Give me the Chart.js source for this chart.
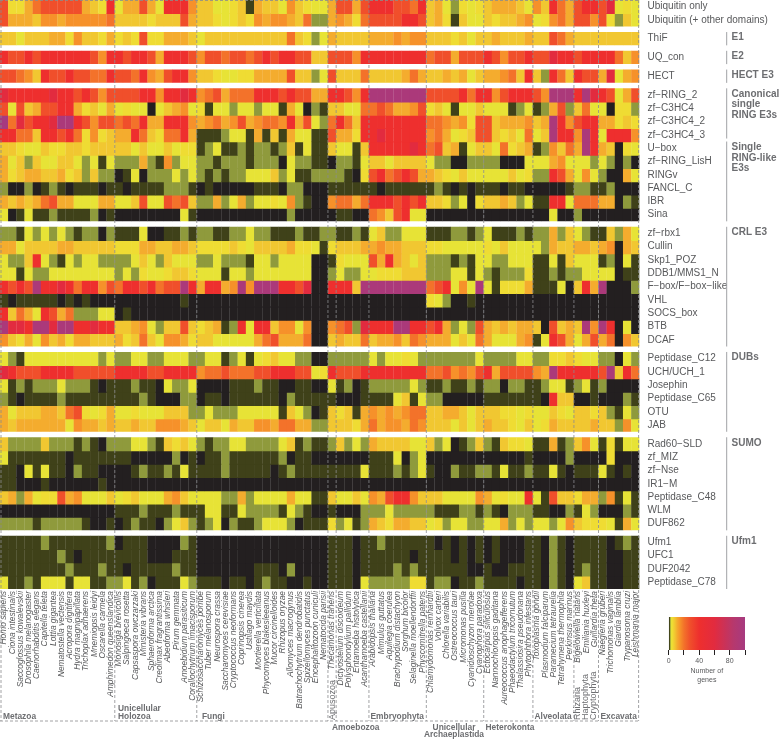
<!DOCTYPE html>
<html><head><meta charset="utf-8">
<script src="https://cdn.jsdelivr.net/npm/chart.js@4"></script>
<style>html,body{margin:0;padding:0;background:#fff}#wrap{position:relative;width:779px;height:740px}canvas{position:absolute;display:block}</style>
</head><body><div id="wrap"><canvas id="c" width="779" height="740" style="left:0;top:0"></canvas><canvas id="leg" width="100" height="72" style="left:660px;top:612px"></canvas></div>
<script>
const species=["Homo sapiens","Ciona intestinalis","Saccoglossus kowalevskii","Drosophila melanogaster","Caenorhabditis elegans","Capitella teleta","Lottia gigantea","Nematostella vectensis","Acropora digitifera","Hydra magnipapillata","Trichoplax adhaerens","Mnemiopsis leidyi","Oscarella carmela","Amphimedon queenslandica","Monosiga brevicollis","Salpingoeca rosetta","Capsaspora owczarzaki","Ministeria vibrans","Sphaeroforma arctica","Creolimax fragrantissima","Abeoforma whisleri","Pirum gemmata","Amoebidium parasiticum","Corallochytrium limacisporum","Schizosaccharomyces pombe","Tuber melanosporum","Neurospora crassa","Saccharomyces cerevisiae","Cryptococcus neoformans","Coprinopsis cinerea","Ustilago maydis","Mortierella verticillata","Phycomyces blakesleeanus","Mucor circinelloides","Rhizopus oryzae","Allomyces macrogynus","Batrachochytrium dendrobatidis","Spizellomyces punctatus","Encephalitozoon cuniculi","Nematocida parisii","Thecamonas trahens","Dictyostelium discoideum","Polysphondylium pallidum","Entamoeba histolytica","Acanthamoeba castellanii","Arabidopsis thaliana","Mimulus guttatus","Aquilegia coerulea","Brachypodium distachyon","Sorghum bicolor","Selaginella moellendorffii","Physcomitrella patens","Chlamydomonas reinhardtii","Volvox carteri","Chlorella variabilis","Ostreococcus tauri","Micromonas pusilla","Cyanidioschyzon merolae","Cyanophora paradoxa","Ectocarpus siliculosus","Nannochloropsis gaditana","Aureococcus anophagefferens","Phaeodactylum tricornutum","Thalassiosira pseudonana","Phytophthora infestans","Toxoplasma gondii","Plasmodium falciparum","Paramecium tetraurelia","Tetrahymena thermophila","Perkinsus marinus","Bigelowiella natans","Emiliania huxleyi","Guillardia theta","Naegleria gruberi","Trichomonas vaginalis","Giardia lamblia","Trypanosoma cruzi","Leishmania major"];
const ubiquitinOnly=[28,5,5,11,20,28,28,28,28,28,11,8,5,40, 3,11,11,28,11,3,40,40,40,15, 8,8,3,3,5,8,1,11,8,8,3,15,8,5,3,3, 11, 28,28,11,28, 40,40,40,28,28,20,40, 8,11,3,2,5,3,5, 8,11,11,11,8,3, 15,8,40,20,11, 28,40,40, 28,60,3,5,3];
const ubiquitinPlus=[28,11,11,11,8,15,15,11,15,15,15,15,15,20, 8,8,8,8,5,8,8,8,28,11, 8,8,5,3,5,8,5,15,11,15,15,11,8,20,2,2, 11, 15,11,5,20, 28,28,28,28,40,40,28, 8,11,5,1,8,3,3, 8,5,8,8,11,15, 3,5,15,20,11, 28,28,15, 28,5,2,8,3];
const thiF=[8,8,3,8,8,8,11,11,5,15,8,8,5,11, 5,8,5,28,5,5,11,11,11,8, 3,8,8,8,8,8,8,8,8,8,8,20,8,5,2,3, 11, 8,8,8,8, 11,11,11,15,11,15,15, 8,8,8,5,8,3,8, 8,11,8,8,8,11, 8,8,28,20,11, 8,8,8, 8,8,8,8,8];
const uqCon=[40,28,28,40,28,40,40,40,40,40,40,28,15,40, 40,28,40,40,28,11,40,40,40,28, 15,28,28,20,28,28,20,28,40,28,40,40,28,28,8,8, 28, 28,28,15,40, 40,40,40,40,40,40,40, 20,28,28,11,28,28,28, 40,28,15,28,28,40, 28,28,60,40,40, 28,40,40, 40,40,20,8,15];
const hect=[28,28,20,15,8,40,28,28,40,28,28,20,20,40, 28,28,20,40,15,11,28,40,40,15, 8,8,5,3,3,5,5,11,11,11,11,28,8,8,2,3, 28, 8,8,8,20, 8,8,8,8,11,20,11, 8,8,11,8,11,3,8, 11,11,15,20,8,40, 8,2,40,20,8, 40,28,28, 11,60,3,11,15];
const zfRing2=[60,40,40,40,40,40,60,40,40,28,40,28,15,28, 28,28,28,40,40,15,40,40,60,40, 15,20,28,11,20,20,20,40,40,40,28,40,28,28,11,11, 40, 40,28,15,40, 95,95,95,95,95,95,95, 28,28,28,28,40,20,40, 40,15,28,40,40,40, 28,15,95,95,95, 40,95,60, 40,28,3,11,28];
const zfC3hc4=[28,3,28,8,11,28,28,40,40,11,5,8,3,11, 3,5,3,3,0,3,8,11,15,3, 5,1,3,3,2,3,3,2,3,3,1,11,3,0,2,1, 8, 8,3,3,20, 20,28,20,11,11,15,28, 5,8,3,1,3,3,8, 3,3,3,1,2,3, 1,2,11,28,2, 8,20,3, 3,0,5,5,2];
const zfC3hc42=[100,20,60,28,40,40,60,95,95,40,28,15,28,28, 20,28,20,40,11,11,40,40,40,15, 11,15,20,11,15,28,11,15,20,20,15,40,11,28,3,2, 20, 40,20,8,40, 40,40,40,40,40,40,40, 20,20,15,11,15,5,28, 28,8,11,11,11,15, 8,11,95,40,15, 28,40,40, 11,11,5,8,5];
const zfC3hc43=[40,40,20,20,8,40,40,28,40,20,5,15,5,8, 11,11,40,20,8,5,20,20,40,11, 1,1,1,2,3,3,1,11,1,8,1,11,3,3,1,1, 28, 11,11,5,40, 40,60,40,40,40,40,40, 15,20,11,3,5,8,28, 28,8,5,8,3,20, 3,8,95,40,40, 15,95,40, 3,40,40,40,15];
const uBox=[8,8,5,3,3,8,5,5,8,8,5,8,8,8, 8,8,3,8,3,3,8,3,5,5, 1,2,3,1,1,2,1,2,2,1,2,8,1,3,1,1, 8, 3,3,1,8, 40,40,40,40,40,60,40, 20,28,8,11,1,3,8, 8,3,20,5,8,11, 1,2,15,8,20, 11,95,40, 11,8,0,5,3];
const zfRingLisH=[11,3,8,2,8,3,3,8,8,3,2,3,1,3, 2,2,2,11,2,1,15,2,3,3, 2,2,1,2,2,2,1,2,2,2,0,3,2,2,1,1, 0, 2,2,1,3, 8,8,3,8,8,8,8, 3,2,2,0,0,2,2, 2,2,0,0,0,3, 3,3,11,15,3, 3,3,2, 3,2,0,2,0];
const ringV=[11,5,8,11,11,8,8,11,5,8,2,8,2,2, 0,1,3,0,2,2,2,3,2,3, 2,1,2,1,2,2,3,3,3,8,2,3,1,1,2,2, 2, 2,1,0,5, 28,40,20,28,40,28,11, 11,8,5,3,8,3,3, 3,3,3,8,3,5, 2,2,40,28,11, 3,15,3, 2,0,0,11,3];
const fanclC=[2,0,0,2,0,1,2,1,0,1,1,1,0,1, 1,0,1,1,1,1,2,2,2,1, 0,1,0,0,0,0,0,1,1,1,0,2,2,0,0,0, 1, 1,1,1,1, 1,0,1,1,1,1,1, 1,2,1,0,1,0,1, 1,1,0,1,1,0, 0,0,0,0,1, 2,2,1, 1,2,0,0,0];
const ibr=[11,8,11,8,11,20,28,11,11,3,3,3,11,11, 3,3,8,28,3,3,28,20,28,8, 2,2,11,2,3,11,2,3,3,5,3,15,2,1,0,0, 15, 20,20,11,20, 40,40,40,28,40,28,40, 8,8,5,2,3,0,5, 8,8,11,8,2,3, 1,1,40,40,3, 20,20,20, 11,11,0,2,1];
const sina=[3,0,1,3,1,1,2,1,1,1,1,2,0,1, 0,0,0,0,0,0,0,0,3,1, 0,0,0,0,0,0,0,0,0,0,0,2,0,0,0,0, 0, 1,1,0,0, 20,15,8,28,40,3,3, 0,0,0,0,0,0,0, 0,0,0,0,0,0, 0,0,3,0,0, 2,0,0, 0,0,0,0,0];
const zfRbx1=[2,2,1,3,2,3,2,3,2,1,2,2,0,2, 1,1,1,3,0,0,1,1,2,1, 2,2,1,1,2,2,3,2,2,1,1,1,2,1,1,2, 2, 1,1,2,1, 3,8,2,2,3,3,3, 1,1,1,2,2,1,2, 3,1,1,1,2,1, 2,2,11,2,8, 3,2,1, 1,8,2,11,3];
const cullin=[11,11,3,8,8,8,8,11,11,8,8,8,8,8, 5,5,5,11,11,8,8,11,11,8, 5,5,5,5,8,5,3,8,8,8,8,11,5,5,3,1, 5, 8,8,8,11, 11,15,11,11,8,8,8, 5,5,3,3,3,3,3, 5,3,8,3,3,3, 3,2,11,8,8, 11,11,8, 11,15,0,11,8];
const skp1Poz=[3,2,2,8,40,3,2,1,3,2,3,3,2,2, 2,2,3,8,3,2,8,3,3,3, 2,2,3,2,2,2,1,3,3,2,3,3,3,3,0,0, 1, 5,3,3,3, 28,11,40,11,8,3,8, 2,2,2,1,2,1,3, 3,2,2,3,3,3, 1,1,3,1,8, 3,3,3, 1,2,0,3,1];
const ddb1=[3,3,1,3,2,2,3,3,3,3,3,3,3,3, 2,3,2,5,3,3,5,8,8,5, 3,3,3,1,3,3,2,3,3,3,3,3,3,3,0,0, 2, 3,2,2,3, 3,5,5,5,8,8,8, 2,2,2,3,3,1,3, 2,1,2,2,2,5, 1,1,2,1,2, 2,3,3, 3,3,0,1,1];
const fBox=[40,28,40,28,95,40,40,60,40,20,40,40,15,28, 20,40,40,28,40,20,28,28,95,40, 11,40,40,11,15,95,15,95,95,95,40,40,28,60,0,0, 40, 40,40,8,95, 95,95,95,95,95,95,95, 20,28,40,3,15,3,95, 3,1,5,5,5,11, 1,1,1,3,0, 8,40,11, 95,0,0,0,2];
const vhl=[1,0,1,1,1,1,1,0,1,0,1,0,0,0, 0,0,0,0,0,0,0,0,1,0, 0,0,0,0,0,0,0,0,0,0,0,0,0,0,0,0, 0, 0,0,0,0, 0,0,0,0,0,0,0, 5,3,2,0,0,1,0, 0,0,0,0,0,0, 0,0,0,0,0, 0,0,0, 0,0,0,0,0];
const socsBox=[40,8,20,11,3,40,28,11,20,2,2,2,3,3, 0,1,0,0,0,0,0,0,0,0, 0,0,0,0,0,0,0,0,0,0,0,0,0,0,0,0, 0, 0,0,0,0, 0,0,0,0,0,0,0, 0,0,0,0,0,0,0, 0,0,0,0,0,0, 0,0,0,0,0, 0,0,0, 0,0,0,0,0];
const btb=[95,60,60,40,95,95,60,95,95,40,40,60,40,40, 8,8,11,15,3,2,8,8,28,8, 5,8,11,1,2,40,3,40,40,8,15,15,3,15,0,0, 15, 20,28,2,60, 40,40,40,95,95,40,40, 28,40,11,2,3,2,28, 11,8,11,8,11,11, 8,0,28,8,11, 8,95,15, 95,40,0,3,0];
const dcaf=[15,8,5,11,3,15,8,11,5,11,11,8,8,8, 11,5,8,20,8,3,15,15,11,5, 8,8,3,3,3,3,3,11,20,28,11,11,11,20,0,0, 8, 11,8,8,20, 8,11,11,15,8,20,15, 11,11,11,3,8,3,20, 11,3,3,3,11,15, 1,3,40,28,11, 3,11,28, 11,20,0,15,8];
const pepC12=[3,2,1,3,3,3,3,3,3,3,3,3,2,3, 2,2,3,3,2,2,3,3,3,2, 2,3,3,1,2,3,1,3,5,8,3,3,2,2,0,0, 2, 2,2,2,2, 3,2,3,3,5,3,2, 2,2,2,2,2,2,3, 2,2,2,2,3,3, 2,2,5,5,8, 5,3,3, 2,2,0,3,2];
const uch=[60,40,28,28,28,40,40,40,40,28,28,28,28,28, 40,40,40,40,28,28,40,40,40,40, 15,20,20,28,20,20,20,28,28,40,40,40,28,28,3,5, 40, 28,28,28,40, 40,40,40,40,40,40,40, 20,20,28,15,20,15,28, 40,11,28,28,28,28, 15,11,95,40,40, 40,40,40, 28,95,8,40,20];
const josephin=[3,1,2,1,2,2,2,3,2,2,2,1,0,1, 1,1,2,1,1,0,3,2,2,3, 0,0,0,0,1,1,1,2,1,1,0,0,1,1,0,0, 3, 1,2,0,1, 2,2,2,2,2,3,2, 1,1,2,1,1,2,1, 2,2,0,2,2,1, 1,2,3,3,1, 2,3,1, 2,0,0,0,0];
const pepC65=[2,1,0,1,1,1,1,2,1,1,1,1,1,1, 1,1,1,2,1,0,0,0,2,2, 0,1,1,0,1,1,1,1,1,1,0,2,1,1,1,1, 1, 0,0,0,1, 1,1,1,3,8,1,3, 2,2,0,0,0,0,0, 1,1,1,1,1,1, 1,0,40,8,8, 0,0,1, 0,0,0,2,1];
const otu=[11,3,8,8,8,11,11,8,20,28,5,3,5,11, 3,3,5,3,3,3,8,8,8,2, 2,3,2,2,2,3,3,3,3,3,1,8,3,2,0,1, 8, 5,8,1,11, 15,11,15,11,15,20,20, 8,8,11,11,8,3,8, 8,8,5,5,3,5, 3,3,8,5,3, 8,8,5, 8,2,1,3,2];
const jab=[11,8,11,11,11,11,11,11,3,15,11,11,8,11, 8,8,11,8,8,15,15,15,11,8, 3,8,8,3,11,8,8,15,15,11,20,20,11,11,2,2, 8, 8,8,5,11, 20,11,15,15,11,20,15, 8,8,8,3,8,3,8, 11,8,8,5,3,8, 3,5,11,8,8, 8,8,11, 8,8,2,15,3];
const rad60=[8,2,2,2,2,8,2,2,2,1,2,1,0,2, 2,2,3,3,2,1,8,5,8,3, 2,1,2,2,3,3,2,2,2,2,3,8,1,2,1,1, 2, 8,2,3,2, 11,8,8,8,8,3,3, 8,2,3,0,1,2,8, 2,1,8,5,5,3, 1,1,11,1,2, 8,15,3, 1,5,1,3,3];
const zfMiz=[3,1,1,1,1,1,1,1,0,1,1,1,1,1, 1,1,0,0,0,0,0,2,0,1, 0,1,1,2,1,1,1,1,1,1,2,0,1,1,0,0, 0, 0,0,0,0, 1,1,1,3,0,2,3, 0,0,0,0,0,0,0, 0,0,0,0,0,1, 0,0,0,0,2, 0,0,0, 0,5,0,0,0];
const zfNse=[1,1,0,3,1,3,1,1,0,2,1,1,0,0, 0,0,1,2,1,1,2,1,3,1, 1,1,1,2,1,1,1,1,1,0,1,2,1,1,1,1, 1, 1,1,1,3, 1,1,1,2,1,2,3, 1,0,0,2,1,1,2, 2,1,3,1,1,2, 1,1,3,1,0, 1,1,1, 3,1,0,1,0];
const ir1M=[1,1,0,0,0,1,0,0,0,0,0,0,1,0, 0,0,0,0,0,0,0,0,0,0, 0,0,0,0,0,0,0,0,0,0,0,0,0,0,0,0, 0, 0,0,0,0, 0,0,0,0,0,0,0, 0,0,0,0,0,0,0, 0,0,0,0,0,0, 0,0,0,0,0, 0,0,0, 0,0,0,0,0];
const pepC48=[8,11,2,11,3,5,5,28,11,15,3,3,3,8, 3,5,8,3,3,3,11,15,8,3, 3,3,3,2,2,11,2,3,3,3,3,11,3,3,1,1, 8, 3,3,8,3, 15,11,28,40,40,15,8, 8,8,3,3,3,3,15, 11,3,5,3,3,40, 3,1,28,8,8, 5,11,11, 2,15,1,3,1];
const wlm=[0,0,0,0,0,0,0,0,0,0,0,0,0,0, 1,1,1,2,1,1,1,2,1,1, 1,3,3,1,1,3,2,2,2,2,1,3,2,1,0,0, 1, 0,0,0,2, 2,2,3,2,2,2,2, 2,1,1,1,2,2,1, 2,1,0,2,2,2, 1,1,0,0,2, 1,3,2, 0,0,0,2,1];
const duf862=[2,2,2,2,1,2,2,2,2,2,1,0,0,1, 0,1,2,1,1,0,2,3,8,2, 1,2,3,0,2,1,1,2,3,3,3,2,0,1,1,1, 5, 2,3,1,2, 11,8,5,11,11,8,8, 3,5,2,3,3,2,2, 3,3,11,2,3,2, 3,3,2,3,15, 8,5,5, 5,3,1,11,3];
const ufm1=[1,1,1,1,1,2,1,1,1,1,1,1,1,2, 0,1,1,1,0,0,0,0,2,1, 0,0,0,0,0,0,0,0,0,0,0,0,0,0,0,0, 1, 1,1,0,1, 1,2,1,1,1,1,1, 1,0,1,0,1,0,1, 0,1,0,0,0,1, 1,0,2,1,0, 1,1,1, 1,0,1,2,1];
const ufc1=[1,1,1,1,1,1,1,2,1,0,1,1,1,1, 1,1,1,1,0,0,0,1,1,1, 0,0,0,0,0,0,0,0,0,0,0,0,0,0,0,0, 1, 1,1,0,1, 1,1,1,1,1,0,1, 1,1,1,0,1,0,1, 0,1,0,0,0,1, 1,0,2,1,0, 1,1,1, 1,0,0,1,1];
const duf2042=[1,1,1,1,1,1,1,1,2,1,1,1,2,1, 1,0,1,1,1,1,1,2,1,1, 0,0,0,0,0,0,0,1,1,1,0,2,0,0,0,0, 1, 1,1,0,1, 1,1,1,2,1,2,1, 1,1,1,1,1,0,0, 1,0,0,1,1,1, 1,0,2,1,0, 1,2,1, 1,0,0,1,1];
const pepC78=[3,1,1,2,1,3,3,3,1,3,3,1,1,2, 2,3,1,2,0,1,1,1,3,2, 1,1,1,0,1,1,0,1,2,1,1,0,0,1,0,0, 1, 1,1,0,3, 2,2,2,2,2,5,5, 1,2,2,0,1,1,2, 1,1,1,1,0,1, 1,0,2,1,0, 3,8,1, 1,0,0,1,1];

const rowNames=["Ubiquitin only","Ubiquitin (+ other domains)","ThiF","UQ_con","HECT","zf\u2212RING_2","zf\u2212C3HC4","zf\u2212C3HC4_2","zf\u2212C3HC4_3","U\u2212box","zf\u2212RING_LisH","RINGv","FANCL_C","IBR","Sina","zf\u2212rbx1","Cullin","Skp1_POZ","DDB1/MMS1_N","F\u2212box/F\u2212box\u2212like","VHL","SOCS_box","BTB","DCAF","Peptidase_C12","UCH/UCH_1","Josephin","Peptidase_C65","OTU","JAB","Rad60\u2212SLD","zf_MIZ","zf\u2212Nse","IR1\u2212M","Peptidase_C48","WLM","DUF862","Ufm1","UFC1","DUF2042","Peptidase_C78"];
const rowValues=[ubiquitinOnly,ubiquitinPlus,thiF,uqCon,hect,zfRing2,zfC3hc4,zfC3hc42,zfC3hc43,uBox,zfRingLisH,ringV,fanclC,ibr,sina,zfRbx1,cullin,skp1Poz,ddb1,fBox,vhl,socsBox,btb,dcaf,pepC12,uch,josephin,pepC65,otu,jab,rad60,zfMiz,zfNse,ir1M,pepC48,wlm,duf862,ufm1,ufc1,duf2042,pepC78];
const blockSizes=[2,1,1,1,10,9,6,7,4];
const blockGap=0.41;
const cladeBoundaries=[0,14,24,40,41,45,52,59,65,70,73,78];
// [first row, last row, label lines]
const familyGroups=[[2,2,["E1"]],[3,3,["E2"]],[4,4,["HECT E3"]],[5,8,["Canonical","single","RING E3s"]],[9,14,["Single","RING-like","E3s"]],[15,23,["CRL E3"]],[24,29,["DUBs"]],[30,36,["SUMO"]],[37,40,["Ufm1"]]];
// colour map anchors: value, colour
const mapValues=[0,1,2,3,5,8,11,15,20,28,40,60,85,100];
const mapColors=["#231f20","#3f4119","#8f9a3c","#e7e336","#efdc33","#f1c731","#f4ac2e","#f6912a","#f3722a","#f04f2b","#ee2f2e","#e22b3f","#b6386d","#a63a80"];

function hex(c){return [1,3,5].map(i=>parseInt(c.substr(i,2),16));}
function colorFor(v){
  let i=0; while(i<mapValues.length-2&&v>mapValues[i+1]) i++;
  const t=Math.min(1,Math.max(0,(v-mapValues[i])/(mapValues[i+1]-mapValues[i])));
  const a=hex(mapColors[i]),b=hex(mapColors[i+1]);
  return 'rgb('+a.map((x,k)=>Math.round(x+(b[k]-x)*t)).join(',')+')';
}
const rowStart=[];let pos=0;
blockSizes.forEach((n,bi)=>{for(let i=0;i<n;i++){rowStart.push(pos);pos+=1;} if(bi<blockSizes.length-1)pos+=blockGap;});
const yMax=pos;
// adjacent rows overlap by a hair so no antialiasing seam shows between them
const rowEnd=rowStart.map((s,i)=>(rowStart[i+1]===s+1?s+1.06:s+1));

const GREY='#58595b',DASH='#8a8c8e',GROUP='#6d6e71',BAR='#a0a2a5';
const FONT='"Liberation Sans", Arial, sans-serif';

const overlay={id:'overlay',afterDatasetsDraw(chart){
  const {ctx,scales:{x,y}}=chart;
  const step=x.width/species.length;
  const edge=c=>x.left+c*step;
  const bottom=721;
  ctx.save();
  ctx.strokeStyle=DASH;ctx.lineWidth=0.8;ctx.setLineDash([3,2]);
  cladeBoundaries.forEach(c=>{const px=Math.min(edge(c)+(c===0?1:0),638.6);ctx.beginPath();ctx.moveTo(px,0);ctx.lineTo(px,bottom);ctx.stroke();});
  [0.5,bottom].forEach(py=>{ctx.beginPath();ctx.moveTo(edge(0),py);ctx.lineTo(x.right,py);ctx.stroke();});
  ctx.setLineDash([]);
  ctx.fillStyle=GROUP;ctx.textBaseline='middle';ctx.textAlign='left';
  familyGroups.forEach(([a,b,lines])=>{
    const t=y.getPixelForValue(rowStart[a]),bt=y.getPixelForValue(rowStart[b]+1);
    ctx.strokeStyle=BAR;ctx.lineWidth=1;ctx.beginPath();ctx.moveTo(726.7,t);ctx.lineTo(726.7,bt-(a===5?3:0));ctx.stroke();
    ctx.font='bold 10px '+FONT;
    lines.forEach((s,i)=>ctx.fillText(s,731.5,t+5.6+i*10.7));
  });
  ctx.font='bold 8.4px '+FONT;ctx.fillStyle=GROUP;
  const clade=(s,px,py,al)=>{ctx.textAlign=al||'left';ctx.fillText(s,px,py);};
  clade('Metazoa',3,716.5);clade('Unicellular',118,709);clade('Holozoa',118,716.9);clade('Fungi',202,716.5);
  clade('Embryophyta',370.5,716.5);clade('Alveolata',534.5,716.5);clade('Excavata',600.5,716.5);
  clade('Amoebozoa',332,727.5);clade('Unicellular',454,727.5,'center');clade('Archaeplastida',454,735,'center');clade('Heterokonta',485.5,727.5);
  [['Apusozoa',332.5],['Rhizaria',577.5],['Haptophyta',586],['Cryptophyta',594]].forEach(([s,px])=>{
    ctx.save();ctx.translate(px,720);ctx.rotate(-Math.PI/2);ctx.textAlign='left';ctx.font='9px '+FONT;ctx.fillText(s,0,0);ctx.restore();
  });
  ctx.restore();
}};

new Chart(document.getElementById('c'),{
  type:'bar',
  data:{labels:species,datasets:rowValues.map((vals,r)=>({
    label:rowNames[r],
    data:vals.map(()=>[rowStart[r],rowEnd[r]]),
    backgroundColor:vals.map(colorFor),
    borderWidth:0,grouped:false,barPercentage:1.03,categoryPercentage:1
  }))},
  options:{
    responsive:false,animation:false,devicePixelRatio:1,
    layout:{padding:0},
    plugins:{legend:{display:false},tooltip:{enabled:false},title:{display:false}},
    scales:{
      x:{type:'category',offset:true,grid:{display:false,drawTicks:false},border:{display:false},
        afterFit(s){s.height=151;s.paddingLeft=0;s.paddingRight=0;s.paddingTop=0;s.paddingBottom=0;},
        ticks:{autoSkip:false,minRotation:90,maxRotation:90,padding:2,color:GREY,font:{family:FONT,size:8.4,style:'italic'}}},
      y:{type:'linear',position:'right',reverse:true,min:0,max:yMax,grid:{display:false,drawTicks:false},border:{display:false},
        afterFit(s){s.width=779-639.5;s.paddingLeft=0;s.paddingRight=0;s.paddingTop=0;s.paddingBottom=0;},
        afterBuildTicks(s){s.ticks=rowStart.map(v=>({value:v+0.5}));},
        ticks:{autoSkip:false,padding:8,color:GREY,font:{family:FONT,size:10},callback:(v,i)=>rowNames[i]}}
    }
  },
  plugins:[overlay]
});

new Chart(document.getElementById('leg'),{
  type:'bar',
  data:{labels:['Number of genes'],datasets:[{data:[[0,100]],barPercentage:1,categoryPercentage:1,borderWidth:0,borderSkipped:false,
    backgroundColor(ctx){
      const a=ctx.chart.chartArea; if(!a)return '#000';
      const g=ctx.chart.ctx.createLinearGradient(a.left,0,a.right,0);
      mapValues.forEach((v,i)=>g.addColorStop(v/100,mapColors[i]));return g;
    }}]},
  options:{
    indexAxis:'y',responsive:false,animation:false,devicePixelRatio:1,
    layout:{padding:{left:8.7,right:15,top:5,bottom:0}},
    plugins:{legend:{display:false},tooltip:{enabled:false}},
    scales:{
      y:{type:'category',display:false},
      x:{type:'linear',min:0,max:100,border:{display:false},
        afterFit(s){s.height=34;s.paddingLeft=0;s.paddingRight=0;},
        grid:{drawOnChartArea:false,drawTicks:true,tickLength:5,color:'#231f20',lineWidth:1},
        ticks:{stepSize:20,padding:2,maxRotation:0,autoSkip:false,color:GREY,font:{family:FONT,size:7},callback:v=>(v%40===0?v:'')},
        title:{display:true,text:['Number of','genes'],color:GREY,font:{family:FONT,size:7,lineHeight:1.25},padding:{top:1,bottom:0}}}
    }
  }
});
</script></body></html>
